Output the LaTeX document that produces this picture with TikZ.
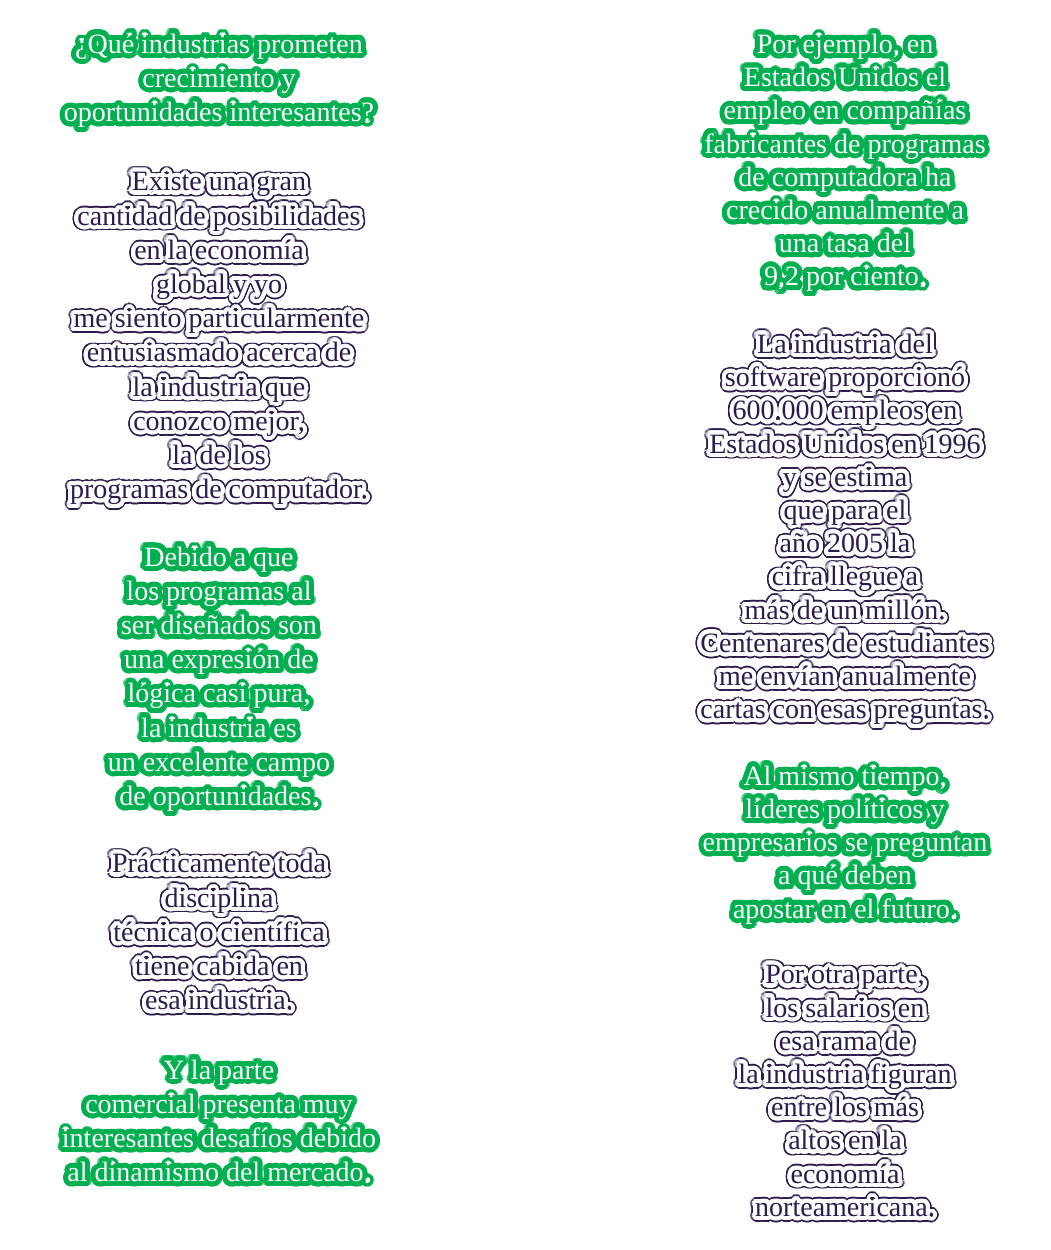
\documentclass[tikz,border=0pt]{standalone}
\usepackage{fontspec}
\setmainfont{Liberation Serif}
\usepackage[copies]{contour}
\usetikzlibrary{positioning}
\definecolor{brandgreen}{RGB}{0,176,80}
\definecolor{inkpurple}{RGB}{45,27,78}
\contournumber{32}
% one line of text with a halo
\newcommand\gl[1]{\strut\smash{\contourlength{5pt}\contour{brandgreen}{#1}}}
\newcommand\dl[1]{\strut\smash{\rlap{\contourlength{5.8pt}\contour{inkpurple}{#1}}\contourlength{4.1pt}\contour{white}{#1}}}

\begin{document}
\begin{tikzpicture}[x=1pt,y=-1pt,
    every node/.style={align=center,inner sep=0pt},
    greenblock/.style={text=white},
    darkblock/.style={text=inkpurple},
    leftcol/.style={font=\fontsize{28}{34.2}\selectfont},
    rightcol/.style={font=\fontsize{28}{33.2}\selectfont},
  ]
  \useasboundingbox (0,0) rectangle (1050,1250);
  % left column
  \node[greenblock,leftcol](ask) at (219,80.5)
    {\gl{¿Qué industrias prometen}\\\gl{crecimiento y}\\\gl{oportunidades interesantes?}};
  \node[darkblock,leftcol](chance) at (219,338)
    {\dl{Existe una gran}\\\dl{cantidad de posibilidades}\\\dl{en la economía}\\\dl{global y yo}\\
     \dl{me siento particularmente}\\\dl{entusiasmado acerca de}\\\dl{la industria que}\\
     \dl{conozco mejor,}\\\dl{la de los}\\\dl{programas de computador.}};
  \node[greenblock,leftcol](logic) at (219,679)
    {\gl{Debido a que}\\\gl{los programas al}\\\gl{ser diseñados son}\\\gl{una expresión de}\\
     \gl{lógica casi pura,}\\\gl{la industria es}\\\gl{un excelente campo}\\\gl{de oportunidades.}};
  \node[darkblock,leftcol](field) at (219,934.5)
    {\dl{Prácticamente toda}\\\dl{disciplina}\\\dl{técnica o científica}\\\dl{tiene cabida en}\\\dl{esa industria.}};
  \node[greenblock,leftcol](market) at (219,1123.5)
    {\gl{Y la parte}\\\gl{comercial presenta muy}\\\gl{interesantes desafíos debido}\\\gl{al dinamismo del mercado.}};
  % right column
  \node[greenblock,rightcol](growth) at (845,163)
    {\gl{Por ejemplo, en}\\\gl{Estados Unidos el}\\\gl{empleo en compañías}\\\gl{fabricantes de programas}\\
     \gl{de computadora ha}\\\gl{crecido anualmente a}\\\gl{una tasa del}\\\gl{9,2 por ciento.}};
  \node[darkblock,rightcol](jobs) at (845,529.5)
    {\dl{La industria del}\\\dl{software proporcionó}\\\dl{600.000 empleos en}\\\dl{Estados Unidos en 1996}\\
     \dl{y se estima}\\\dl{que para el}\\\dl{año 2005 la}\\\dl{cifra llegue a}\\\dl{más de un millón.}\\
     \dl{Centenares de estudiantes}\\\dl{me envían anualmente}\\\dl{cartas con esas preguntas.}};
  \node[greenblock,rightcol](future) at (845,845)
    {\gl{Al mismo tiempo,}\\\gl{líderes políticos y}\\\gl{empresarios se preguntan}\\\gl{a qué deben}\\\gl{apostar en el futuro.}};
  \node[darkblock,rightcol](wages) at (845,1093.5)
    {\dl{Por otra parte,}\\\dl{los salarios en}\\\dl{esa rama de}\\\dl{la industria figuran}\\
     \dl{entre los más}\\\dl{altos en la}\\\dl{economía}\\\dl{norteamericana.}};
\end{tikzpicture}
\end{document}
